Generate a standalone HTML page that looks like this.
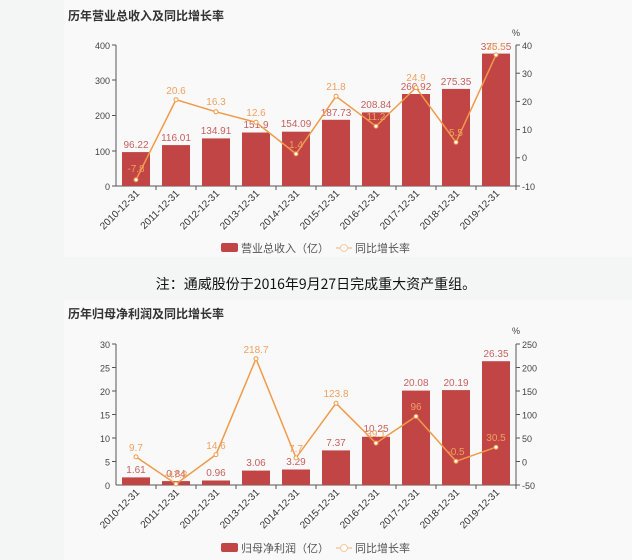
<!DOCTYPE html>
<html><head><meta charset="utf-8"><style>
html,body{margin:0;padding:0;background:#f4f6f6;}
svg{display:block;font-family:"Liberation Sans","DejaVu Sans","Noto Sans CJK SC",sans-serif;}
</style></head><body>
<svg width="632" height="560" xmlns="http://www.w3.org/2000/svg">
<rect x="0" y="0" width="632" height="560" fill="#f4f6f6"/>
<rect x="64" y="0" width="568" height="257" fill="#f9f9f9"/>
<rect x="64" y="300" width="568" height="260" fill="#f9f9f9"/>
<text x="68" y="20" font-size="12" font-weight="bold" fill="#333" font-family="Noto Sans CJK SC,sans-serif">历年营业总收入及同比增长率</text>
<text x="68" y="318" font-size="12" font-weight="bold" fill="#333" font-family="Noto Sans CJK SC,sans-serif">历年归母净利润及同比增长率</text>
<text x="316" y="289" font-size="14" text-anchor="middle" fill="#111" font-family="Noto Sans CJK SC,sans-serif">注：通威股份于2016年9月27日完成重大资产重组。</text>

<!-- Chart 1 -->
<g font-size="9" fill="#444">
<line x1="116" y1="45" x2="116" y2="186" stroke="#555"/>
<line x1="516" y1="45" x2="516" y2="186" stroke="#555"/>
<line x1="116" y1="186" x2="516" y2="186" stroke="#555"/>
<g text-anchor="end">
<text x="110" y="49">400</text><text x="110" y="84">300</text><text x="110" y="119">200</text><text x="110" y="155">100</text><text x="110" y="190">0</text>
</g>
<g stroke="#555"><line x1="112" y1="45" x2="116" y2="45"/><line x1="112" y1="80" x2="116" y2="80"/><line x1="112" y1="115.5" x2="116" y2="115.5"/><line x1="112" y1="151" x2="116" y2="151"/><line x1="112" y1="186" x2="116" y2="186"/>
<line x1="516" y1="45" x2="520" y2="45"/><line x1="516" y1="73.2" x2="520" y2="73.2"/><line x1="516" y1="101.4" x2="520" y2="101.4"/><line x1="516" y1="129.6" x2="520" y2="129.6"/><line x1="516" y1="157.8" x2="520" y2="157.8"/><line x1="516" y1="186" x2="520" y2="186"/></g>
<text x="522" y="49">40</text><text x="522" y="77">30</text><text x="522" y="105">20</text><text x="522" y="133">10</text><text x="522" y="161">0</text><text x="522" y="190">-10</text>
<text x="512" y="36">%</text>
</g>
<g fill="#c14545">
<rect x="122" y="152.1" width="28" height="33.9"/><rect x="162" y="145.1" width="28" height="40.9"/><rect x="202" y="138.4" width="28" height="47.6"/><rect x="242" y="132.5" width="28" height="53.5"/><rect x="282" y="131.7" width="28" height="54.3"/><rect x="322" y="119.8" width="28" height="66.2"/><rect x="362" y="112.4" width="28" height="73.6"/><rect x="402" y="94" width="28" height="92"/><rect x="442" y="88.9" width="28" height="97.1"/><rect x="482" y="53.6" width="28" height="132.4"/>
</g>
<g font-size="10" fill="#c0504d" text-anchor="middle" opacity="0.9">
<text x="136" y="148">96.22</text><text x="176" y="141">116.01</text><text x="216" y="134">134.91</text><text x="256" y="128">151.9</text><text x="296" y="127">154.09</text><text x="336" y="116">187.73</text><text x="376" y="108">208.84</text><text x="416" y="90">260.92</text><text x="456" y="85">275.35</text><text x="496" y="50">375.55</text>
</g>
<polyline fill="none" stroke="#f09a4a" stroke-width="1.5" points="136,179.8 176,99.7 216,111.8 256,122.3 296,153.9 336,96.3 376,126.2 416,87.6 456,142.3 496,54.9"/>
<g fill="#fff" stroke="#f09a4a" stroke-width="1"><circle cx="136" cy="179.8" r="2"/><circle cx="176" cy="99.7" r="2"/><circle cx="216" cy="111.8" r="2"/><circle cx="256" cy="122.3" r="2"/><circle cx="296" cy="153.9" r="2"/><circle cx="336" cy="96.3" r="2"/><circle cx="376" cy="126.2" r="2"/><circle cx="416" cy="87.6" r="2"/><circle cx="456" cy="142.3" r="2"/><circle cx="496" cy="54.9" r="2"/></g>
<g font-size="10" fill="#f0a060" text-anchor="middle">
<text x="136" y="172">-7.8</text><text x="176" y="94">20.6</text><text x="216" y="105">16.3</text><text x="256" y="116">12.6</text><text x="296" y="148">1.4</text><text x="336" y="90">21.8</text><text x="376" y="120">11.2</text><text x="416" y="81">24.9</text><text x="456" y="136">5.5</text><text x="496" y="50">36.5</text>
</g>
<g stroke="#555"><line x1="156" y1="186" x2="156" y2="190"/><line x1="196" y1="186" x2="196" y2="190"/><line x1="236" y1="186" x2="236" y2="190"/><line x1="276" y1="186" x2="276" y2="190"/><line x1="316" y1="186" x2="316" y2="190"/><line x1="356" y1="186" x2="356" y2="190"/><line x1="396" y1="186" x2="396" y2="190"/><line x1="436" y1="186" x2="436" y2="190"/><line x1="476" y1="186" x2="476" y2="190"/><line x1="516" y1="186" x2="516" y2="190"/></g>
<g font-size="10" fill="#333" text-anchor="end">
<text transform="translate(140,194) rotate(-45)">2010-12-31</text><text transform="translate(180,194) rotate(-45)">2011-12-31</text><text transform="translate(220,194) rotate(-45)">2012-12-31</text><text transform="translate(260,194) rotate(-45)">2013-12-31</text><text transform="translate(300,194) rotate(-45)">2014-12-31</text><text transform="translate(340,194) rotate(-45)">2015-12-31</text><text transform="translate(380,194) rotate(-45)">2016-12-31</text><text transform="translate(420,194) rotate(-45)">2017-12-31</text><text transform="translate(460,194) rotate(-45)">2018-12-31</text><text transform="translate(500,194) rotate(-45)">2019-12-31</text>
</g>
<rect x="221" y="243" width="17" height="9" rx="2" fill="#c14545"/>
<text x="241" y="252" font-size="11" fill="#555" font-family="Noto Sans CJK SC,sans-serif">营业总收入（亿）</text>
<line x1="336" y1="248" x2="352" y2="248" stroke="#f5c9a0" stroke-width="1.5"/><circle cx="344" cy="248" r="3.5" fill="#fff" stroke="#f5c9a0"/>
<text x="355" y="252" font-size="11" fill="#555" font-family="Noto Sans CJK SC,sans-serif">同比增长率</text>

<!-- Chart 2 -->
<g font-size="9" fill="#444">
<line x1="116" y1="344" x2="116" y2="485" stroke="#555"/>
<line x1="516" y1="344" x2="516" y2="485" stroke="#555"/>
<line x1="116" y1="485" x2="516" y2="485" stroke="#555"/>
<g text-anchor="end">
<text x="110" y="348">30</text><text x="110" y="371.5">25</text><text x="110" y="395">20</text><text x="110" y="418.5">15</text><text x="110" y="442">10</text><text x="110" y="465.5">5</text><text x="110" y="489">0</text>
</g>
<g stroke="#555"><line x1="112" y1="344" x2="116" y2="344"/><line x1="112" y1="367.5" x2="116" y2="367.5"/><line x1="112" y1="391" x2="116" y2="391"/><line x1="112" y1="414.5" x2="116" y2="414.5"/><line x1="112" y1="438" x2="116" y2="438"/><line x1="112" y1="461.5" x2="116" y2="461.5"/>
<line x1="516" y1="344" x2="520" y2="344"/><line x1="516" y1="367.5" x2="520" y2="367.5"/><line x1="516" y1="391" x2="520" y2="391"/><line x1="516" y1="414.5" x2="520" y2="414.5"/><line x1="516" y1="438" x2="520" y2="438"/><line x1="516" y1="461.5" x2="520" y2="461.5"/><line x1="516" y1="485" x2="520" y2="485"/></g>
<text x="522" y="348">250</text><text x="522" y="371.5">200</text><text x="522" y="395">150</text><text x="522" y="418.5">100</text><text x="522" y="442">50</text><text x="522" y="465.5">0</text><text x="522" y="489">-50</text>
<text x="512" y="334">%</text>
</g>
<g fill="#c14545">
<rect x="122" y="477.4" width="28" height="7.6"/><rect x="162" y="481.1" width="28" height="3.9"/><rect x="202" y="480.5" width="28" height="4.5"/><rect x="242" y="470.6" width="28" height="14.4"/><rect x="282" y="469.5" width="28" height="15.5"/><rect x="322" y="450.4" width="28" height="34.6"/><rect x="362" y="436.8" width="28" height="48.2"/><rect x="402" y="390.6" width="28" height="94.4"/><rect x="442" y="390.1" width="28" height="94.9"/><rect x="482" y="361.2" width="28" height="123.8"/>
</g>
<g font-size="10" fill="#c0504d" text-anchor="middle" opacity="0.9">
<text x="136" y="473">1.61</text><text x="176" y="477">0.84</text><text x="216" y="476">0.96</text><text x="256" y="466">3.06</text><text x="296" y="465">3.29</text><text x="336" y="446">7.37</text><text x="376" y="432">10.25</text><text x="416" y="386">20.08</text><text x="456" y="386">20.19</text><text x="496" y="357">26.35</text>
</g>
<polyline fill="none" stroke="#f09a4a" stroke-width="1.5" points="136,456.9 176,484 216,454.6 256,358.7 296,457.9 336,403.3 376,443.1 416,416.4 456,461.3 496,447.2"/>
<g fill="#fff" stroke="#f09a4a" stroke-width="1"><circle cx="136" cy="456.9" r="2"/><circle cx="176" cy="484" r="2"/><circle cx="216" cy="454.6" r="2"/><circle cx="256" cy="358.7" r="2"/><circle cx="296" cy="457.9" r="2"/><circle cx="336" cy="403.3" r="2"/><circle cx="376" cy="443.1" r="2"/><circle cx="416" cy="416.4" r="2"/><circle cx="456" cy="461.3" r="2"/><circle cx="496" cy="447.2" r="2"/></g>
<g font-size="10" fill="#f0a060" text-anchor="middle">
<text x="136" y="451">9.7</text><text x="176" y="478">-47.8</text><text x="216" y="449">14.6</text><text x="256" y="353">218.7</text><text x="296" y="452">7.7</text><text x="336" y="397">123.8</text><text x="376" y="437">39.1</text><text x="416" y="410">96</text><text x="456" y="455">-0.5</text><text x="496" y="441">30.5</text>
</g>
<g stroke="#555"><line x1="156" y1="485" x2="156" y2="489"/><line x1="196" y1="485" x2="196" y2="489"/><line x1="236" y1="485" x2="236" y2="489"/><line x1="276" y1="485" x2="276" y2="489"/><line x1="316" y1="485" x2="316" y2="489"/><line x1="356" y1="485" x2="356" y2="489"/><line x1="396" y1="485" x2="396" y2="489"/><line x1="436" y1="485" x2="436" y2="489"/><line x1="476" y1="485" x2="476" y2="489"/><line x1="516" y1="485" x2="516" y2="489"/></g>
<g font-size="10" fill="#333" text-anchor="end">
<text transform="translate(140,493) rotate(-45)">2010-12-31</text><text transform="translate(180,493) rotate(-45)">2011-12-31</text><text transform="translate(220,493) rotate(-45)">2012-12-31</text><text transform="translate(260,493) rotate(-45)">2013-12-31</text><text transform="translate(300,493) rotate(-45)">2014-12-31</text><text transform="translate(340,493) rotate(-45)">2015-12-31</text><text transform="translate(380,493) rotate(-45)">2016-12-31</text><text transform="translate(420,493) rotate(-45)">2017-12-31</text><text transform="translate(460,493) rotate(-45)">2018-12-31</text><text transform="translate(500,493) rotate(-45)">2019-12-31</text>
</g>
<rect x="221" y="543" width="17" height="9" rx="2" fill="#c14545"/>
<text x="241" y="552" font-size="11" fill="#555" font-family="Noto Sans CJK SC,sans-serif">归母净利润（亿）</text>
<line x1="336" y1="548" x2="352" y2="548" stroke="#f5c9a0" stroke-width="1.5"/><circle cx="344" cy="548" r="3.5" fill="#fff" stroke="#f5c9a0"/>
<text x="355" y="552" font-size="11" fill="#555" font-family="Noto Sans CJK SC,sans-serif">同比增长率</text>
</svg>
</body></html>
